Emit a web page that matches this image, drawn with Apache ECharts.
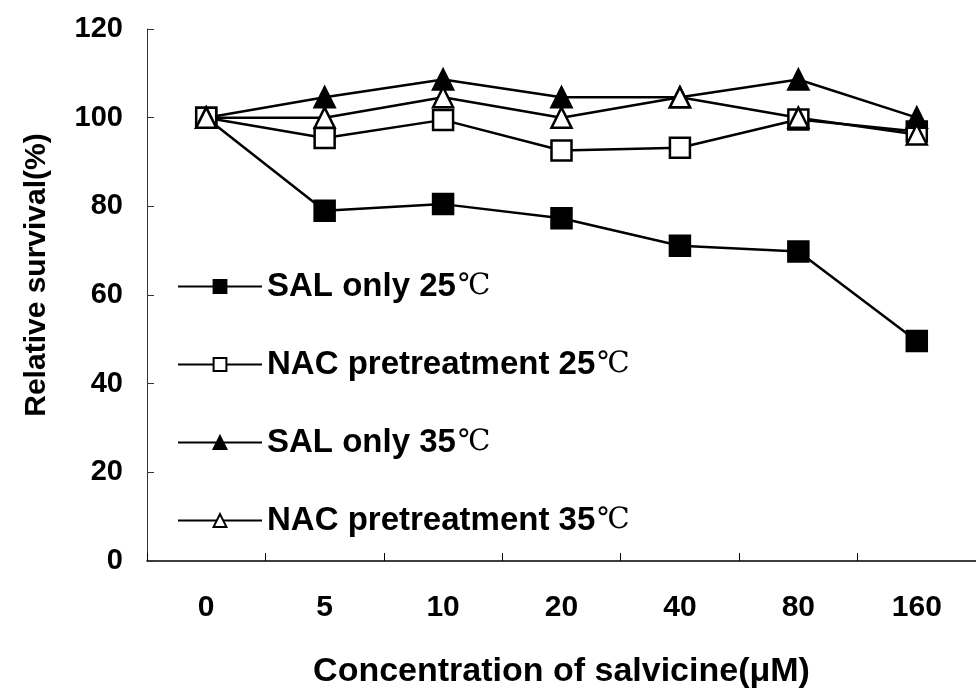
<!DOCTYPE html>
<html>
<head>
<meta charset="utf-8">
<script src="https://cdn.jsdelivr.net/npm/echarts@6/dist/echarts.min.js"></script>
<style>
html,body{margin:0;padding:0;background:#fff;}
#c{width:976px;height:695px;}
</style>
</head>
<body>
<div id="c"></div>
<script>
var categories = ['0', '5', '10', '20', '40', '80', '160'];
var salOnly25 = [100, 79, 80.5, 77.3, 71.1, 69.8, 49.6];
var nac25 = [100, 95.4, 99.5, 92.6, 93.2, 99.6, 96.9];
var salOnly35 = [100, 104.6, 108.6, 104.6, 104.6, 108.6, 100];
var nac35 = [100, 100, 104.6, 100, 104.6, 100, 96.2];
var seriesNames = ['SAL only 25', 'NAC pretreatment 25', 'SAL only 35', 'NAC pretreatment 35'];
var yTicks = [0, 20, 40, 60, 80, 100, 120];

var chart = echarts.init(document.getElementById('c'), null, {renderer: 'canvas'});
var FONT = '"Liberation Sans", Arial, sans-serif';

function mk(name, data, symbol, filled) {
  return {
    name: name,
    type: 'line',
    data: data,
    symbol: symbol,
    symbolSize: 20,
    showAllSymbol: true,
    lineStyle: {color: '#000', width: 2.5},
    itemStyle: {color: filled ? '#000' : '#fff', borderColor: '#000', borderWidth: 2.5},
    emphasis: {disabled: true},
    z: 2
  };
}

chart.setOption({
  animation: false,
  backgroundColor: '#fff',
  grid: {left: 147, right: 0, top: 29, bottom: 134, containLabel: false, outerBoundsMode: 'none'},
  legend: {
    orient: 'vertical',
    left: 177,
    top: 270,
    padding: 0,
    itemWidth: 84,
    itemHeight: 16,
    itemGap: 45,
    data: seriesNames,
    formatter: function (n) { return '{t|' + n + '}{c|℃}'; },
    textStyle: {
      rich: {
        t: {fontFamily: FONT, fontWeight: 'bold', fontSize: 33, color: '#000', lineHeight: 31},
        c: {fontFamily: '"DejaVu Serif", "Noto Sans CJK SC", serif', fontWeight: 'normal', fontSize: 29, color: '#000', lineHeight: 31, padding: [0, 0, 0, 2]}
      }
    }
  },
  xAxis: {
    type: 'category',
    data: categories,
    boundaryGap: true,
    name: 'Concentration of salvicine(μM)',
    nameLocation: 'middle',
    nameGap: 94,
    nameTextStyle: {fontFamily: FONT, fontWeight: 'bold', fontSize: 34, color: '#000'},
    axisLine: {lineStyle: {color: '#000', width: 1.5}},
    axisTick: {show: true, inside: true, length: 8, lineStyle: {color: '#000', width: 1}},
    axisLabel: {fontFamily: FONT, fontWeight: 'bold', fontSize: 30, color: '#000', margin: 32},
    splitLine: {show: false}
  },
  yAxis: {
    type: 'value',
    min: yTicks[0],
    max: yTicks[yTicks.length - 1],
    interval: 20,
    name: 'Relative survival(%)',
    nameLocation: 'middle',
    nameGap: 95,
    nameTextStyle: {fontFamily: FONT, fontWeight: 'bold', fontSize: 30, color: '#000', padding: [0, 0, 0, 40]},
    axisLine: {show: true, lineStyle: {color: '#333', width: 1}},
    axisTick: {show: true, inside: true, length: 7, lineStyle: {color: '#333', width: 1}},
    axisLabel: {fontFamily: FONT, fontWeight: 'bold', fontSize: 29, color: '#000', margin: 24},
    splitLine: {show: false}
  },
  series: [
    mk(seriesNames[0], salOnly25, 'rect', true),
    mk(seriesNames[1], nac25, 'rect', false),
    mk(seriesNames[2], salOnly35, 'triangle', true),
    mk(seriesNames[3], nac35, 'triangle', false)
  ]
});
</script>
</body>
</html>
